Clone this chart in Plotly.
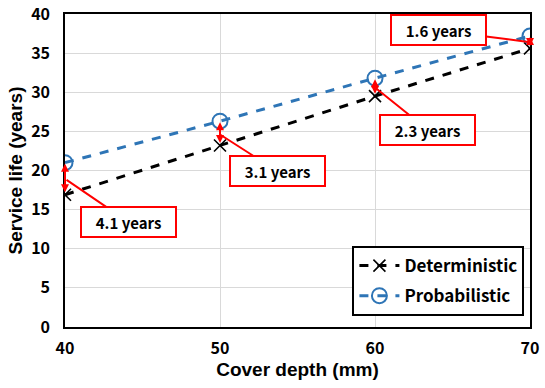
import plotly.graph_objects as go

cover_depth = [40, 50, 60, 70]
deterministic = [16.9, 23.2, 29.5, 35.6]
probabilistic = [21.0, 26.3, 31.8, 37.2]
diff_labels = ["4.1 years", "3.1 years", "2.3 years", "1.6 years"]
# label box centres (data coords) and pointer tip y
box_x = [44.1, 53.7, 63.4, 64.1]
box_y = [13.4, 19.9, 25.2, 37.9]
tip_x = [40.1, 50.0, 60.0, 70.0]
tip_y = [18.8, 24.6, 30.6, 36.4]

TICKFONT = dict(family="Noto Sans CJK KR", size=16, color="black", weight="bold")

fig = go.Figure()
fig.add_trace(go.Scatter(
    x=cover_depth, y=deterministic, name="Deterministic", mode="lines+markers",
    legendgroup="d",
    line=dict(color="black", width=3, dash="dash"),
    marker=dict(symbol="x-thin", size=12, line=dict(color="black", width=1.6)),
))
fig.add_trace(go.Scatter(
    x=cover_depth, y=probabilistic, name="Probabilistic", mode="lines+markers",
    legendgroup="p",
    line=dict(color="#2E75B6", width=3, dash="dash"),
    marker=dict(symbol="circle-open", size=15, color="#2E75B6", line=dict(width=2)),
))

anns = []
for x, d, p in zip(cover_depth, deterministic, probabilistic):
    anns.append(dict(x=x, y=p, ax=x, ay=d, xref="x", yref="y", axref="x", ayref="y",
                     text="", showarrow=True, arrowhead=2, startarrowhead=2,
                     arrowside="end+start", arrowsize=0.8, startarrowsize=0.8, arrowwidth=2,
                     arrowcolor="red", standoff=1, startstandoff=1))
for lbl, bx, by, tx, ty in zip(diff_labels, box_x, box_y, tip_x, tip_y):
    anns.append(dict(x=tx, y=ty, ax=bx, ay=by, xref="x", yref="y", axref="x", ayref="y",
                     text=lbl, showarrow=True, arrowhead=0, arrowwidth=2, arrowcolor="red",
                     font=dict(family="Noto Sans CJK KR", size=15, color="black", weight="bold"),
                     bgcolor="white", bordercolor="red", borderwidth=2,
                     width=89, height=24, borderpad=2))

fig.update_layout(
    width=545, height=388,
    margin=dict(l=65, r=15, t=14, b=61, autoexpand=False),
    plot_bgcolor="white", paper_bgcolor="white",
    showlegend=True,
    legend=dict(x=0.988, y=0.035, xanchor="right", yanchor="bottom",
                bordercolor="black", borderwidth=2, bgcolor="white",
                font=dict(family="Noto Sans CJK KR", size=17, color="black", weight="bold"),
                itemwidth=40, tracegroupgap=5),
    annotations=anns,
)
fig.update_xaxes(range=[40, 70], tickvals=[40, 50, 60, 70], tickfont=TICKFONT,
                 showgrid=True, gridcolor="#D9D9D9", showline=True, linecolor="black",
                 linewidth=1.5, mirror=True, zeroline=False, ticks="outside", ticklen=6,
                 tickcolor="rgba(0,0,0,0)", automargin=False,
                 title=dict(text="Cover depth (mm)", standoff=2,
                            font=dict(family="Liberation Sans", size=19, color="black", weight="bold")))
fig.update_yaxes(range=[0, 40], dtick=5, tickfont=TICKFONT,
                 showgrid=True, gridcolor="#D9D9D9", showline=True, linecolor="black",
                 linewidth=1.5, mirror=True, zeroline=False, ticks="outside", ticklen=10,
                 tickcolor="rgba(0,0,0,0)", automargin=False,
                 title=dict(text="Service life (years)", standoff=4,
                            font=dict(family="Liberation Sans", size=19, color="black", weight="bold")))

fig.write_html("out.html", config={"displayModeBar": False},
               post_script="document.body.style.margin='0';")
